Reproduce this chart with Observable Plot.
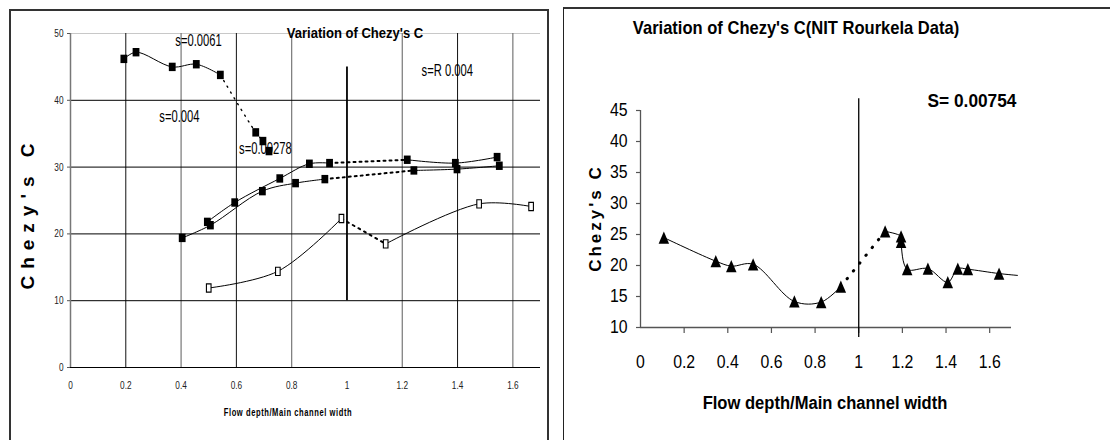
<!DOCTYPE html>
<html>
<head>
<meta charset="utf-8">
<script src="https://cdn.jsdelivr.net/npm/d3@7"></script>
<script src="https://cdn.jsdelivr.net/npm/@observablehq/plot@0.6"></script>
<style>
  html, body { margin: 0; padding: 0; background: #fff; }
  #page { position: relative; width: 1110px; height: 440px; overflow: hidden; background: #fff;
          font-family: "Liberation Sans Narrow", "Liberation Sans", Arial, sans-serif; color: #000; }
  .chart { position: absolute; top: 0; }
  .chart svg { background: transparent !important; overflow: visible; }
  .frame { position: absolute; box-sizing: border-box; pointer-events: none; }
  .lbl { position: absolute; white-space: nowrap; line-height: 1; }
</style>
</head>
<body>
<div id="page">
  <div id="left" class="chart" style="left:0px"></div>
  <div id="right" class="chart" style="left:560px"></div>

  <div class="frame" style="left:9px; top:9px; width:540px; height:460px; border:2px solid #333;"></div>
  <div class="frame" style="left:563px; top:7px; width:600px; height:460px; border-left:1.5px solid #222; border-top:2px solid #333;"></div>

  <div class="lbl" style="left:355px; top:32px; font-size:15px; font-weight:bold; transform:translate(-50%,-50%) scaleX(0.87);">Variation of Chezy's C</div>
  <div class="lbl" style="left:27px; top:213px; font-size:19px; font-weight:bold; letter-spacing:7px; transform:translate(-50%,-50%) rotate(-90deg);">Chezy's C</div>
  <div class="lbl" style="left:288px; top:412px; font-size:10.5px; font-weight:bold; letter-spacing:0.8px; transform:translate(-50%,-50%) scaleX(0.72);">Flow depth/Main channel width</div>

  <div class="lbl" style="left:796px; top:27px; font-size:19px; font-weight:bold; transform:translate(-50%,-50%) scaleX(0.87);">Variation of Chezy's C(NIT Rourkela Data)</div>
  <div class="lbl" style="left:972px; top:100px; font-size:19px; font-weight:bold; transform:translate(-50%,-50%) scaleX(0.91);">S= 0.00754</div>
  <div class="lbl" style="left:595px; top:218px; font-size:17px; font-weight:bold; letter-spacing:3px; transform:translate(-50%,-50%) rotate(-90deg);">Chezy's C</div>
  <div class="lbl" style="left:825px; top:403px; font-size:18px; font-weight:bold; transform:translate(-50%,-50%) scaleX(0.92);">Flow depth/Main channel width</div>
</div>
<script>
// ---------------- Left chart data ----------------
const leftXTicks = [0, 0.2, 0.4, 0.6, 0.8, 1, 1.2, 1.4, 1.6];
const leftXLabels = ["0", "0.2", "0.4", "0.6", "0.8", "1", "1.2", "1.4", "1.6"];
const leftYTicks = [0, 10, 20, 30, 40, 50];
const leftYLabels = ["0", "10", "20", "30", "40", "50"];

// s=0.0061 (filled squares); dotted part from index 4 onward
const sA_x = [0.193, 0.237, 0.368, 0.455, 0.542, 0.670, 0.696, 0.718];
const sA_y = [46.2, 47.2, 45.0, 45.4, 43.8, 35.2, 33.9, 32.4];
const sA_dot = [4, 7];

// s=0.004 upper branch (filled squares)
const sB_x = [0.495, 0.594, 0.757, 0.864, 0.937, 1.218, 1.392, 1.543];
const sB_y = [21.8, 24.7, 28.3, 30.5, 30.6, 31.1, 30.6, 31.5];
const sB_dot = [4, 5];

// s=0.00278 lower branch (filled squares)
const sC_x = [0.404, 0.506, 0.694, 0.814, 0.920, 1.242, 1.398, 1.551];
const sC_y = [19.4, 21.3, 26.4, 27.6, 28.2, 29.5, 29.7, 30.2];
const sC_dot = [4, 5];

// s=R 0.004 (open squares)
const sD_x = [0.500, 0.750, 0.980, 1.140, 1.478, 1.666];
const sD_y = [11.9, 14.4, 22.3, 18.5, 24.5, 24.1];
const sD_dot = [2, 3];

const leftNotes = ["s=0.0061", "s=0.004", "s=0.00278", "s=R 0.004"];
const leftNoteX = [0.463, 0.394, 0.705, 1.363];
const leftNoteY = [48.9, 37.6, 32.8, 44.5];

const dividerLeft = {x: 1, y1: 10, y2: 45};

// ---------------- Right chart data ----------------
const rightXTicks = [0, 0.2, 0.4, 0.6, 0.8, 1, 1.2, 1.4, 1.6];
const rightXLabels = ["0", "0.2", "0.4", "0.6", "0.8", "1", "1.2", "1.4", "1.6"];
const rightYTicks = [10, 15, 20, 25, 30, 35, 40, 45];
const rightYLabels = ["10", "15", "20", "25", "30", "35", "40", "45"];

const nit_x = [0.107, 0.345, 0.416, 0.516, 0.705, 0.828, 0.918, 1.121, 1.194, 1.194, 1.222, 1.317, 1.408, 1.454, 1.500, 1.643, 1.728];
const nit_y = [24.5, 20.7, 19.9, 20.2, 14.2, 14.1, 16.6, 25.5, 24.7, 23.8, 19.4, 19.5, 17.3, 19.5, 19.4, 18.7, 18.4];
const nit_dot = [6, 7];

const dividerRight = {x: 1, y1: 8.4, y2: 46.9};

// ---------------- helpers ----------------
const FONT = "Liberation Sans Narrow, Liberation Sans, Arial, sans-serif";
const rows = (xs, ys) => xs.map((x, i) => ({x, y: ys[i]}));
const rectSymbol = (wr, hr) => ({
  draw(ctx, size) {
    const r = Math.sqrt(size / Math.PI);
    const w = wr * r, h = hr * r;
    ctx.rect(-w / 2, -h / 2, w, h);
  }
});
const triSymbol = (wr, hr) => ({
  draw(ctx, size) {
    const r = Math.sqrt(size / Math.PI);
    const w = wr * r, h = hr * r;
    ctx.moveTo(0, -h / 2);
    ctx.lineTo(w / 2, h / 2);
    ctx.lineTo(-w / 2, h / 2);
    ctx.closePath();
  }
});
// condense SVG text horizontally around its anchor (reference uses a narrow face)
function condense(svg, cls, k) {
  svg.querySelectorAll(`g.${cls} text`).forEach(t => {
    const tr = t.getAttribute("transform") || "";
    t.setAttribute("transform", `${tr} scale(${k},1)`);
  });
}

function seriesMarks(xs, ys, dot, opts) {
  const pts = rows(xs, ys);
  const before = pts.slice(0, dot[0] + 1);
  const mid = pts.slice(dot[0], dot[1] + 1);
  const after = pts.slice(dot[1]);
  const marks = [];
  if (before.length > 1) marks.push(Plot.line(before, {x: "x", y: "y", curve: "catmull-rom", stroke: "#000", strokeWidth: 1}));
  marks.push(Plot.line(mid, {x: "x", y: "y", curve: "catmull-rom", stroke: "#000", strokeWidth: opts.dotWidth, strokeDasharray: opts.dash, strokeLinecap: "round"}));
  if (after.length > 1) marks.push(Plot.line(after, {x: "x", y: "y", curve: "catmull-rom", stroke: "#000", strokeWidth: 1}));
  marks.push(Plot.dot(pts.filter(d => d.x <= opts.xmax), {x: "x", y: "y", r: opts.r, symbol: opts.symbol, fill: opts.fill, stroke: "#000", strokeWidth: opts.sw}));
  return marks;
}

// ---------------- left chart ----------------
{
  const W = 550, H = 440, mL = 70, mR = 10, mT = 33, mB = 73;
  const xDom = [0, 1.7], yDom = [0, 50];
  const pxX = (xDom[1] - xDom[0]) / (W - mL - mR);
  const filledSq = rectSymbol(1.7, 2.1);
  const openSq = rectSymbol(1.4, 2.5);
  const chart = Plot.plot({
    width: W, height: H, marginLeft: mL, marginRight: mR, marginTop: mT, marginBottom: mB,
    x: {domain: xDom, axis: null},
    y: {domain: yDom, axis: null},
    style: {background: "transparent"},
    marks: [
      Plot.ruleY([50], {stroke: "#c8c8c8", strokeWidth: 1.2}),
      Plot.ruleX([0.2, 0.6, 1.4], {y1: 0, y2: 50, stroke: "#111", strokeWidth: 1}),
      Plot.ruleX([0.4, 0.8, 1.2, 1.6], {y1: 0, y2: 50, stroke: "#777", strokeWidth: 1.2}),
      Plot.ruleY([10, 20, 30, 40], {stroke: "#000", strokeWidth: 1}),
      Plot.ruleX([0], {y1: 0, y2: 50, stroke: "#777", strokeWidth: 1.5}),
      Plot.ruleY([0], {stroke: "#000", strokeWidth: 1.2}),
      Plot.ruleY(leftYTicks, {y: d => d, x1: -3 * pxX, x2: 0, stroke: "#555"}),
      Plot.ruleX([dividerLeft], {x: "x", y1: "y1", y2: "y2", stroke: "#000", strokeWidth: 1.8}),
      ...seriesMarks(sA_x, sA_y, sA_dot, {dash: "1.2,5.5", dotWidth: 1.4, r: 4, symbol: filledSq, fill: "#000", sw: 0, xmax: 2}),
      ...seriesMarks(sB_x, sB_y, sB_dot, {dash: "2,4", dotWidth: 2, r: 4, symbol: filledSq, fill: "#000", sw: 0, xmax: 2}),
      ...seriesMarks(sC_x, sC_y, sC_dot, {dash: "2,4", dotWidth: 2, r: 4, symbol: filledSq, fill: "#000", sw: 0, xmax: 2}),
      ...seriesMarks(sD_x, sD_y, sD_dot, {dash: "2,4.5", dotWidth: 2, r: 3.3, symbol: openSq, fill: "#fff", sw: 1.1, xmax: 2}),
      Plot.text(leftXTicks, {x: d => d, y: 0, dy: 18, text: (d, i) => leftXLabels[i], fontSize: 11, fontFamily: FONT, fill: "#222", className: "tickl"}),
      Plot.text(leftYTicks, {x: 0, y: d => d, dx: -7, textAnchor: "end", text: (d, i) => leftYLabels[i], fontSize: 11, fontFamily: FONT, fill: "#222", className: "tickl"}),
      Plot.text(leftNotes, {x: (d, i) => leftNoteX[i], y: (d, i) => leftNoteY[i], text: d => d, fontSize: 17, fontFamily: FONT, fill: "#000", className: "note"})
    ]
  });
  condense(chart, "tickl", 0.75);
  condense(chart, "note", 0.66);
  document.getElementById("left").appendChild(chart);
}

// ---------------- right chart ----------------
{
  const W = 550, H = 440, mL = 80, mR = 99, mT = 110, mB = 113;
  const xDom = [0, 1.7], yDom = [10, 45];
  const pxX = (xDom[1] - xDom[0]) / (W - mL - mR);
  const pxY = (yDom[1] - yDom[0]) / (H - mT - mB);
  const tri = triSymbol(2.1, 2.45);
  const chart = Plot.plot({
    width: W, height: H, marginLeft: mL, marginRight: mR, marginTop: mT, marginBottom: mB,
    x: {domain: xDom, axis: null},
    y: {domain: yDom, axis: null},
    style: {background: "transparent"},
    marks: [
      Plot.ruleX([0], {y1: 10, y2: 45, stroke: "#555", strokeWidth: 1.3}),
      Plot.ruleY([10], {x1: 0, x2: 1.7, stroke: "#555", strokeWidth: 1.3}),
      Plot.ruleY(rightYTicks, {y: d => d, x1: -4 * pxX, x2: 0, stroke: "#555", strokeWidth: 1.2}),
      Plot.ruleX(rightXTicks.filter(d => d > 0), {x: d => d, y1: 10, y2: 10 - 6 * pxY, stroke: "#555", strokeWidth: 1.2}),
      Plot.ruleX([dividerRight], {x: "x", y1: "y1", y2: "y2", stroke: "#000", strokeWidth: 1.3}),
      ...seriesMarks(nit_x, nit_y, nit_dot, {dash: "0.5,9.5", dotWidth: 3, r: 5, symbol: tri, fill: "#000", sw: 0, xmax: 1.7}),
      Plot.text(rightXTicks, {x: d => d, y: 10, dy: 35, text: (d, i) => rightXLabels[i], fontSize: 18, fontFamily: FONT, fill: "#000", className: "tickr"}),
      Plot.text(rightYTicks, {x: 0, y: d => d, dx: -13, textAnchor: "end", text: (d, i) => rightYLabels[i], fontSize: 18, fontFamily: FONT, fill: "#000", className: "tickr"})
    ]
  });
  condense(chart, "tickr", 0.88);
  document.getElementById("right").appendChild(chart);
}
</script>
</body>
</html>
